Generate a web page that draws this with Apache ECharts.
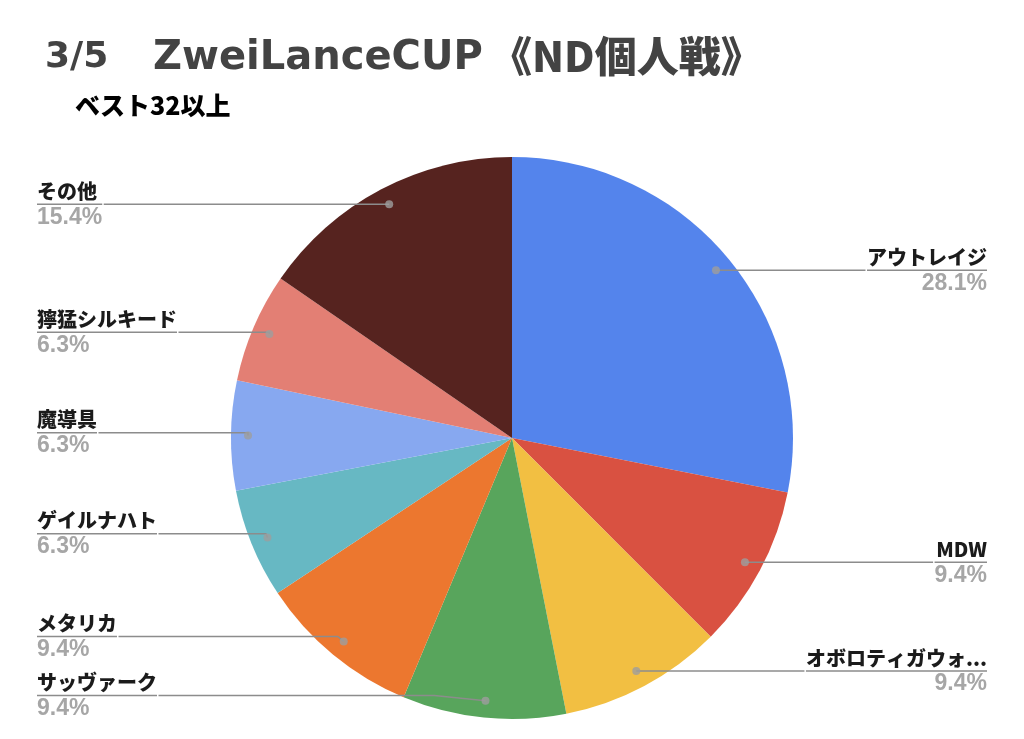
<!DOCTYPE html>
<html><head><meta charset="utf-8">
<script src="https://cdn.jsdelivr.net/npm/echarts@6/dist/echarts.min.js"></script>
<style>html,body{margin:0;padding:0;background:#fff}#c{width:1024px;height:739px}</style>
</head><body><div id="c"></div>
<script>
const titleParts = ['3/5', 'ZweiLanceCUP', '《ND個人戦》'];
const subtitle = 'ベスト32以上';
const categories = ['アウトレイジ', 'MDW', 'オボロティガウォ...', 'サッヴァーク', 'メタリカ', 'ゲイルナハト', '魔導具', '獰猛シルキード', 'その他'];
const shares = [28.1, 9.4, 9.4, 9.4, 9.4, 6.3, 6.3, 6.3, 15.4];
const colors = ['#5484EC', '#D95141', '#F2BF42', '#58A55C', '#EC772F', '#67B8C3', '#87A8F0', '#E37F74', '#56231F'];

const total = shares.reduce((a, b) => a + b, 0);
let acc = 0;
const mids = shares.map(v => { const m = (acc + v / 2) / total * 100; acc += v; return m; });
const pieData = categories.map((n, i) => ({ name: n, value: shares[i], itemStyle: { color: colors[i] } }));
const labelData = categories.map((n, i) => ({ name: n, value: shares[i] }));

const CX = 512, CY = 438, R = 281, RL = 264;
const chart = echarts.init(document.getElementById('c'), null, { renderer: 'canvas' });
const latin = { fontFamily: 'DejaVu Sans', fontWeight: 'bold', color: '#434343' };
chart.setOption({
  backgroundColor: '#fff',
  animation: false,
  title: [
    { text: titleParts[0], left: 45, top: 40, padding: 0, textStyle: Object.assign({ fontSize: 36 }, latin) },
    { text: titleParts[1], left: 153, top: 39, padding: 0, textStyle: Object.assign({ fontSize: 40 }, latin) },
    { text: titleParts[2], left: 490, top: 35, padding: 0, textStyle: { fontFamily: 'Noto Sans CJK JP', fontWeight: 900, fontSize: 42, color: '#434343' } },
    { text: subtitle, left: 75, top: 93, padding: 0, textStyle: { fontFamily: 'Noto Sans CJK JP', fontWeight: 900, fontSize: 25, color: '#000' } }
  ],
  polar: { center: [CX, CY], radius: R },
  angleAxis: { type: 'value', min: 0, max: 100, startAngle: 90, clockwise: true, show: false },
  radiusAxis: { type: 'value', min: 0, max: R, show: false },
  series: [
    {
      type: 'pie', z: 2, center: [CX, CY], radius: R, startAngle: 90, clockwise: true,
      data: pieData, label: { show: false }, labelLine: { show: false }, silent: true
    },
    {
      type: 'pie', z: 4, center: [CX, CY], radius: RL, startAngle: 90, clockwise: true,
      left: 0, top: 0, right: 0, bottom: 18, silent: true,
      emphasis: { disabled: true },
      data: labelData,
      itemStyle: { color: 'rgba(0,0,0,0)' },
      label: {
        show: true, position: 'outside', alignTo: 'edge', edgeDistance: 37, distanceToLabelLine: 0,
        formatter: '{name|{b}}\n{hr|}\n{per|{c}%}',
        rich: {
          name: { fontFamily: 'Noto Sans CJK JP', fontWeight: 900, fontSize: 20, color: '#1b1b1b', lineHeight: 26 },
          hr: { width: '100%', height: 0, borderColor: '#8c8c8c', borderWidth: 1.5 },
          per: { fontFamily: 'Liberation Sans', fontWeight: 'bold', fontSize: 23, color: '#a6a6a6', lineHeight: 26 }
        }
      },
      labelLine: { show: true, length: 0, length2: 10, lineStyle: { color: '#8c8c8c', width: 1.5 } }
    },
    {
      type: 'scatter', coordinateSystem: 'polar', silent: true, z: 6,
      data: mids.map(m => [RL, m]), symbolSize: 8, itemStyle: { color: '#9e9e9e' }
    }
  ]
});
</script></body></html>
